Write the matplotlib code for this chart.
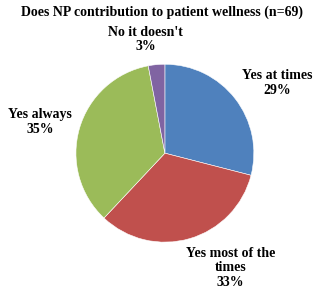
import matplotlib.pyplot as plt

# data
labels = ['Yes at times', 'Yes most of the\ntimes', 'Yes always', "No it doesn't"]
percents = [29, 33, 35, 3]
colors = ['#4F81BD', '#C0504D', '#9BBB59', '#8064A2']
# label centres in data coords (pie radius = 1)
label_pos = [(1.26, 0.79), (0.74, -1.29), (-1.40, 0.35), (-0.22, 1.28)]

plt.rcParams['font.family'] = ['Liberation Serif', 'DejaVu Serif']

fig = plt.figure(figsize=(3.23, 2.96), dpi=100)
ax = fig.add_axes([0.235, 0.182, 0.551, 0.601])

ax.pie(percents, colors=colors, startangle=90, counterclock=False,
       wedgeprops=dict(edgecolor='white', linewidth=0.4))
ax.set_xlim(-1, 1)
ax.set_ylim(-1, 1)
ax.set_aspect('equal')
ax.axis('off')

for lab, p, (x, y) in zip(labels, percents, label_pos):
    ax.text(x, y, f'{lab}\n{p}%', ha='center', va='center', fontsize=10,
            fontweight='bold', linespacing=1.15, clip_on=False)

fig.text(0.502, 0.958, 'Does NP contribution to patient wellness (n=69)',
         ha='center', va='center', fontsize=10, fontweight='bold')

fig.savefig('out.png', dpi=100)
